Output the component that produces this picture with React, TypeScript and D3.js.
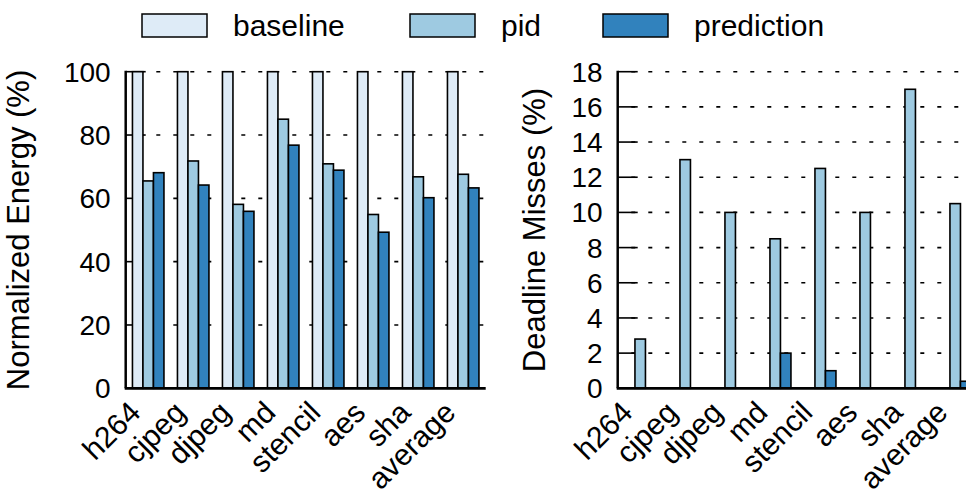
import React from "react";
import * as d3 from "d3";

const categories = ["h264", "cjpeg", "djpeg", "md", "stencil", "aes", "sha", "average"];
const seriesNames = ["baseline", "pid", "prediction"];
const seriesColors = ["#deebf7", "#9ecae1", "#3182bd"];

const energyBaseline = [100, 100, 100, 100, 100, 100, 100, 100];
const energyPid = [65.5, 71.8, 58.1, 85.0, 70.9, 54.9, 66.8, 67.6];
const energyPrediction = [68.1, 64.2, 55.9, 76.8, 68.9, 49.3, 60.2, 63.3];

const missBaseline = [0, 0, 0, 0, 0, 0, 0, 0];
const missPid = [2.8, 13.0, 10.0, 8.5, 12.5, 10.0, 17.0, 10.5];
const missPrediction = [0, 0, 0, 2.0, 1.0, 0, 0, 0.4];

const energyTicks = [0, 20, 40, 60, 80, 100];
const missTicks = [0, 2, 4, 6, 8, 10, 12, 14, 16, 18];

const FONT = "'Liberation Sans', Arial, Helvetica, sans-serif";

type PanelProps = {
  x0: number;
  x1: number;
  yTop: number;
  yBottom: number;
  yMax: number;
  ticks: number[];
  series: number[][];
  yLabel: string;
  yLabelX: number;
  clipRight: number;
  id: string;
};

function Panel(p: PanelProps) {
  const x = d3.scaleBand<string>().domain(categories).range([p.x0, p.x1]).paddingInner(0.3).paddingOuter(0.15);
  const xs = d3.scaleBand<string>().domain(seriesNames).range([0, x.bandwidth()]);
  const y = d3.scaleLinear().domain([0, p.yMax]).range([p.yBottom, p.yTop]);
  const gridEnd = Math.min(p.x1, p.clipRight);
  return (
    <g>
      <defs>
        <clipPath id={p.id}>
          <rect x={0} y={0} width={p.clipRight} height={495} />
        </clipPath>
      </defs>
      {p.ticks.filter((t) => t > 0).map((t) => (
        <g key={t}>
          <line
            x1={p.x0}
            x2={gridEnd}
            y1={y(t)}
            y2={y(t)}
            stroke="#000"
            strokeWidth={1.6}
            strokeDasharray="4,13"
            strokeDashoffset={3.4}
          />
          <line x1={p.x0} x2={p.x0 + 20} y1={y(t)} y2={y(t)} stroke="#000" strokeWidth={1.6} />
        </g>
      ))}
      <g clipPath={`url(#${p.id})`}>
        {categories.map((c, i) =>
          seriesNames.map((s, j) => {
            const v = p.series[j][i];
            if (v <= 0) return null;
            return (
              <rect
                key={c + s}
                x={(x(c) as number) + (xs(s) as number)}
                y={y(v)}
                width={xs.bandwidth()}
                height={p.yBottom - y(v)}
                fill={seriesColors[j]}
                stroke="#000"
                strokeWidth={1.6}
              />
            );
          })
        )}
      </g>
      {p.ticks.map((t) => (
        <text
          key={"l" + t}
          x={p.x0 - 15}
          y={y(t) + 10}
          textAnchor="end"
          fontSize={28}
          fontFamily={FONT}
        >
          {t}
        </text>
      ))}
      <line x1={p.x0} x2={p.x0} y1={p.yTop - 1} y2={p.yBottom} stroke="#000" strokeWidth={2.5} />
      <line x1={p.x0 - 1} x2={gridEnd} y1={p.yBottom} y2={p.yBottom} stroke="#000" strokeWidth={2.8} />
      <text
        transform={`translate(${p.yLabelX},${(p.yTop + p.yBottom) / 2}) rotate(-90)`}
        textAnchor="middle"
        fontSize={31}
        fontFamily={FONT}
      >
        {p.yLabel}
      </text>
      {categories.map((c) => {
        const cx = (x(c) as number) + x.bandwidth() / 2 - 6;
        return (
          <text
            key={"x" + c}
            transform={`translate(${cx},${p.yBottom + 26}) rotate(-45)`}
            textAnchor="end"
            fontSize={30}
            fontFamily={FONT}
          >
            {c}
          </text>
        );
      })}
    </g>
  );
}

export default function App() {
  const legendBoxX = [142, 410, 603];
  return (
    <svg
      width={966}
      height={495}
      style={{ position: "absolute", left: 0, top: 0, background: "#fff" }}
    >
      <rect x={0} y={0} width={966} height={495} fill="#fff" />
      {seriesNames.map((s, i) => (
        <g key={s}>
          <rect
            x={legendBoxX[i]}
            y={14}
            width={65}
            height={23}
            fill={seriesColors[i]}
            stroke="#000"
            strokeWidth={1.5}
          />
          <text x={legendBoxX[i] + 91} y={36} fontSize={30} fontFamily={FONT}>
            {s}
          </text>
        </g>
      ))}
      <Panel
        id="clipL"
        x0={125.7}
        x1={485.7}
        yTop={71.7}
        yBottom={388.3}
        yMax={100}
        ticks={energyTicks}
        series={[energyBaseline, energyPid, energyPrediction]}
        yLabel="Normalized Energy (%)"
        yLabelX={29}
        clipRight={966}
      />
      <Panel
        id="clipR"
        x0={617.7}
        x1={977.7}
        yTop={71.7}
        yBottom={388.3}
        yMax={18}
        ticks={missTicks}
        series={[missBaseline, missPid, missPrediction]}
        yLabel="Deadline Misses (%)"
        yLabelX={545}
        clipRight={966}
      />
    </svg>
  );
}
